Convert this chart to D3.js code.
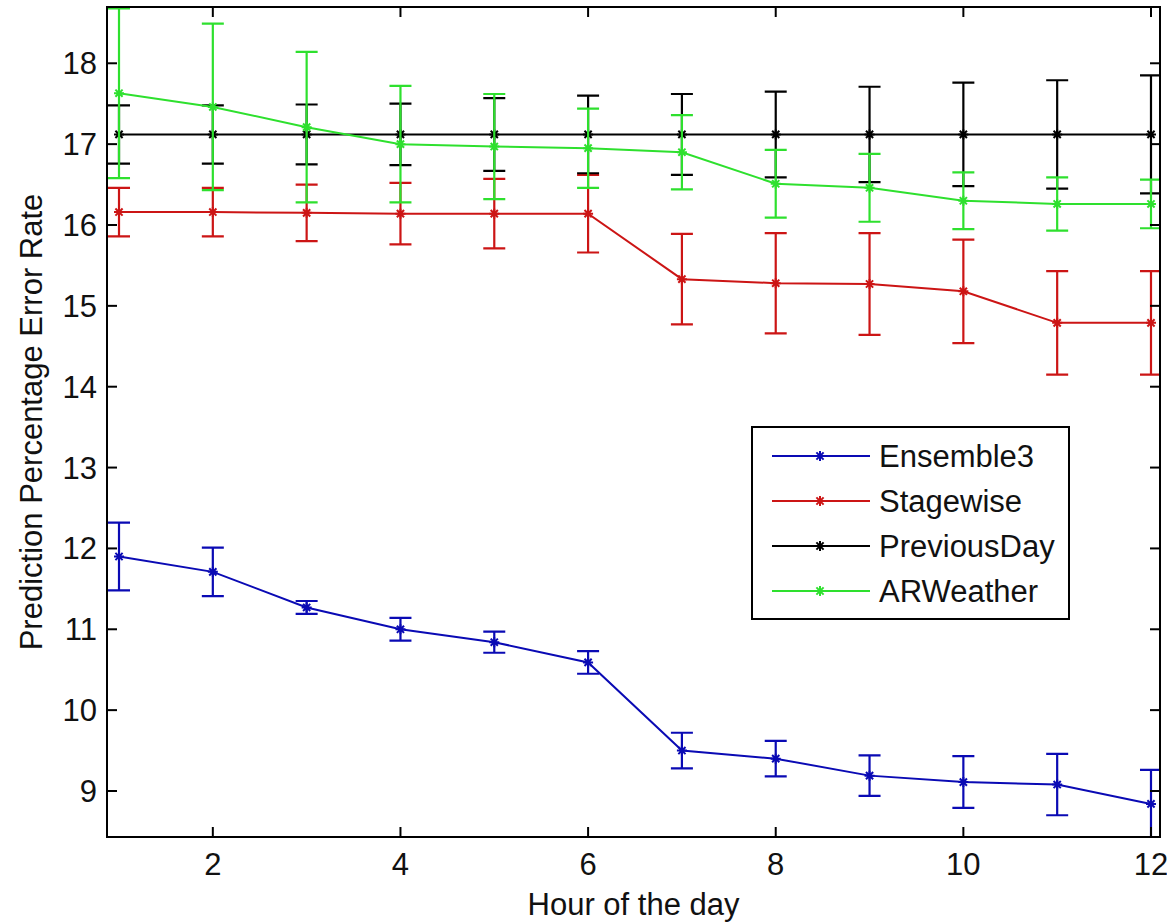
<!DOCTYPE html>
<html>
<head>
<meta charset="utf-8">
<script src="https://cdn.jsdelivr.net/npm/d3@7"></script>
<style>
  html, body { margin: 0; padding: 0; background: #fff; }
  svg { display: block; }
  text { font-family: "Liberation Sans", Arial, sans-serif; fill: #111; }
</style>
</head>
<body>
<svg id="chart" width="1167" height="923"></svg>
<script>
// ---- data ----
const hours = [1, 2, 3, 4, 5, 6, 7, 8, 9, 10, 11, 12];
const seriesNames = ["Ensemble3", "Stagewise", "PreviousDay", "ARWeather"];
const seriesColors = ["#0a0ab4", "#cc1515", "#000000", "#2ee02e"];

const ensemble3Mean = [11.90, 11.71, 11.27, 11.00, 10.84, 10.59, 9.50, 9.40, 9.19, 9.11, 9.08, 8.84];
const ensemble3Err  = [0.42, 0.30, 0.08, 0.14, 0.13, 0.14, 0.22, 0.22, 0.25, 0.32, 0.38, 0.42];

const stagewiseMean = [16.16, 16.16, 16.15, 16.14, 16.14, 16.14, 15.33, 15.28, 15.27, 15.18, 14.79, 14.79];
const stagewiseErr  = [0.30, 0.30, 0.35, 0.38, 0.43, 0.48, 0.56, 0.62, 0.63, 0.64, 0.64, 0.64];

const previousDayMean = [17.12, 17.12, 17.12, 17.12, 17.12, 17.12, 17.12, 17.12, 17.12, 17.12, 17.12, 17.12];
const previousDayErr  = [0.36, 0.36, 0.37, 0.38, 0.45, 0.48, 0.50, 0.53, 0.59, 0.64, 0.67, 0.73];

const arWeatherMean = [17.63, 17.46, 17.21, 17.00, 16.97, 16.95, 16.90, 16.51, 16.46, 16.30, 16.26, 16.26];
const arWeatherErr  = [1.05, 1.03, 0.93, 0.72, 0.65, 0.49, 0.46, 0.42, 0.42, 0.35, 0.33, 0.30];

const xTicks = [2, 4, 6, 8, 10, 12];
const yTicks = [9, 10, 11, 12, 13, 14, 15, 16, 17, 18];
const xDomain = [0.872, 12.096];
const yDomain = [8.431, 18.696];

const xLabel = "Hour of the day";
const yLabel = "Prediction Percentage Error Rate";

// ---- layout ----
const L = 107, R = 1160, T = 7, B = 837;
const svg = d3.select("#chart");
const x = d3.scaleLinear().domain(xDomain).range([L, R]);
const y = d3.scaleLinear().domain(yDomain).range([B, T]);

const series = [
  { name: seriesNames[0], color: seriesColors[0], mean: ensemble3Mean, err: ensemble3Err },
  { name: seriesNames[1], color: seriesColors[1], mean: stagewiseMean, err: stagewiseErr },
  { name: seriesNames[2], color: seriesColors[2], mean: previousDayMean, err: previousDayErr },
  { name: seriesNames[3], color: seriesColors[3], mean: arWeatherMean, err: arWeatherErr }
];

svg.append("defs").append("clipPath").attr("id", "plotclip")
  .append("rect").attr("x", L).attr("y", T).attr("width", R - L).attr("height", B - T);

const plot = svg.append("g").attr("clip-path", "url(#plotclip)");
const capW = 11, mk = 5;

function asterisk(cx, cy, s) {
  const d = s * 0.72;
  return `M${cx - s},${cy}L${cx + s},${cy}M${cx},${cy - s}L${cx},${cy + s}` +
         `M${cx - d},${cy - d}L${cx + d},${cy + d}M${cx - d},${cy + d}L${cx + d},${cy - d}`;
}

const line = d3.line().x(d => x(d[0])).y(d => y(d[1]));

series.forEach(s => {
  const g = plot.append("g");
  const pts = hours.map((h, i) => [h, s.mean[i], s.err[i]]);
  g.append("path").attr("d", line(pts)).attr("fill", "none")
    .attr("stroke", s.color).attr("stroke-width", 2);
  pts.forEach(p => {
    const px = x(p[0]), lo = y(p[1] - p[2]), hi = y(p[1] + p[2]);
    g.append("path")
      .attr("d", `M${px},${lo}L${px},${hi}M${px - capW},${hi}L${px + capW},${hi}M${px - capW},${lo}L${px + capW},${lo}`)
      .attr("stroke", s.color).attr("stroke-width", 2.2).attr("fill", "none");
    g.append("path").attr("d", asterisk(px, y(p[1]), mk))
      .attr("stroke", s.color).attr("stroke-width", 2).attr("fill", "none");
  });
});

// ---- axes frame & ticks ----
const axG = svg.append("g");
const tickLen = 10;
xTicks.forEach(t => {
  axG.append("line").attr("x1", x(t)).attr("x2", x(t)).attr("y1", B).attr("y2", B - tickLen)
    .attr("stroke", "#000").attr("stroke-width", 2);
  axG.append("line").attr("x1", x(t)).attr("x2", x(t)).attr("y1", T).attr("y2", T + tickLen)
    .attr("stroke", "#000").attr("stroke-width", 2);
  axG.append("text").attr("x", x(t)).attr("y", 875).attr("text-anchor", "middle")
    .attr("font-size", 31).text(t);
});
yTicks.forEach(t => {
  axG.append("line").attr("x1", L).attr("x2", L + tickLen).attr("y1", y(t)).attr("y2", y(t))
    .attr("stroke", "#000").attr("stroke-width", 2);
  axG.append("line").attr("x1", R).attr("x2", R - tickLen).attr("y1", y(t)).attr("y2", y(t))
    .attr("stroke", "#000").attr("stroke-width", 2);
  axG.append("text").attr("x", 97).attr("y", y(t) + 11).attr("text-anchor", "end")
    .attr("font-size", 31).text(t);
});
axG.append("rect").attr("x", L).attr("y", T).attr("width", R - L).attr("height", B - T)
  .attr("fill", "none").attr("stroke", "#000").attr("stroke-width", 2);

svg.append("text").attr("x", (L + R) / 2).attr("y", 915).attr("text-anchor", "middle")
  .attr("font-size", 31).text(xLabel);
svg.append("text").attr("transform", `translate(42,${(T + B) / 2}) rotate(-90)`)
  .attr("text-anchor", "middle").attr("font-size", 31).text(yLabel);

// ---- legend ----
const lg = svg.append("g");
lg.append("rect").attr("x", 752).attr("y", 427).attr("width", 317).attr("height", 192)
  .attr("fill", "#fff").attr("stroke", "#000").attr("stroke-width", 2);
const rowY = d3.scalePoint().domain(seriesNames).range([456, 591]);
series.forEach(s => {
  const ry = rowY(s.name);
  lg.append("line").attr("x1", 772).attr("x2", 870).attr("y1", ry).attr("y2", ry)
    .attr("stroke", s.color).attr("stroke-width", 2);
  lg.append("path").attr("d", asterisk(820, ry, mk)).attr("stroke", s.color)
    .attr("stroke-width", 2).attr("fill", "none");
  lg.append("text").attr("x", 879).attr("y", ry + 11).attr("font-size", 31).text(s.name);
});
</script>
</body>
</html>
